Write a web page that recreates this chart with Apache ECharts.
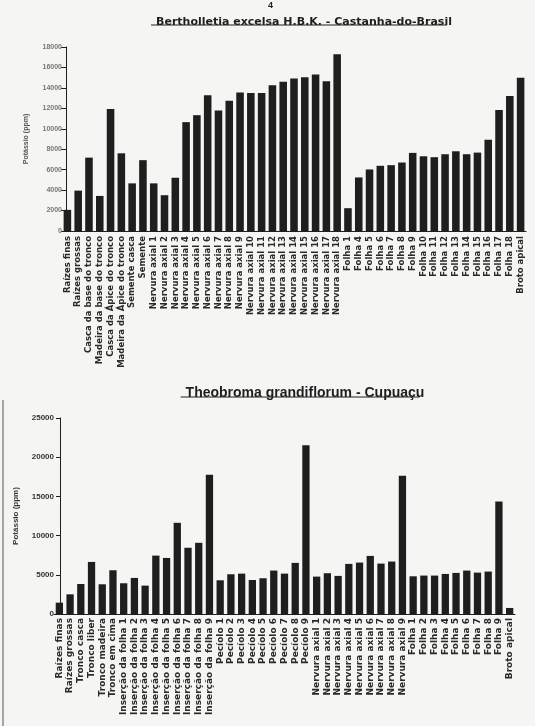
<!DOCTYPE html>
<html>
<head>
<meta charset="utf-8">
<script src="https://cdn.jsdelivr.net/npm/echarts@6/dist/echarts.min.js"></script>
<style>
  html, body { margin: 0; padding: 0; background: #f5f5f3; }
  #chart { width: 535px; height: 726px; }
</style>
</head>
<body>
<div id="chart"></div>
<script>
// Bertholletia excelsa - Castanha-do-Brasil
var castanhaCats = [
  'Raízes finas', 'Raízes grossas', 'Casca da base do tronco', 'Madeira da base do tronco',
  'Casca da Ápice do tronco', 'Madeira da Ápice do tronco', 'Semente casca', 'Semente',
  'Nervura axial 1', 'Nervura axial 2', 'Nervura axial 3', 'Nervura axial 4', 'Nervura axial 5',
  'Nervura axial 6', 'Nervura axial 7', 'Nervura axial 8', 'Nervura axial 9', 'Nervura axial 10',
  'Nervura axial 11', 'Nervura axial 12', 'Nervura axial 13', 'Nervura axial 14', 'Nervura axial 15',
  'Nervura axial 16', 'Nervura axial 17', 'Nervura axial 18',
  'Folha 1', 'Folha 4', 'Folha 5', 'Folha 6', 'Folha 7', 'Folha 8', 'Folha 9', 'Folha 10',
  'Folha 11', 'Folha 12', 'Folha 13', 'Folha 14', 'Folha 15', 'Folha 16', 'Folha 17', 'Folha 18',
  'Broto apical'
];
var castanhaK = [
  2070, 3950, 7180, 3430, 11940, 7600, 4660, 6930,
  4660, 3500, 5210, 10650, 11330, 13270, 11780, 12750, 13560, 13500,
  13500, 14270, 14600, 14920, 15050, 15310, 14660, 17280,
  2230, 5240, 6020, 6380, 6440, 6700, 7640, 7310,
  7220, 7510, 7800, 7510, 7670, 8930, 11840, 13200,
  14980
];

// Theobroma grandiflorum - Cupuaçu
var cupuacuCats = [
  'Raízes finas', 'Raízes grossas', 'Tronco casca', 'Tronco liber', 'Tronco madeira', 'Tronco em cima',
  'Inserção da folha 1', 'Inserção da folha 2', 'Inserção da folha 3', 'Inserção da folha 4',
  'Inserção da folha 5', 'Inserção da folha 6', 'Inserção da folha 7', 'Inserção da folha 8',
  'Inserção da folha 9',
  'Pecíolo 1', 'Pecíolo 2', 'Pecíolo 3', 'Pecíolo 4', 'Pecíolo 5', 'Pecíolo 6', 'Pecíolo 7',
  'Pecíolo 8', 'Pecíolo 9',
  'Nervura axial 1', 'Nervura axial 2', 'Nervura axial 3', 'Nervura axial 4', 'Nervura axial 5',
  'Nervura axial 6', 'Nervura axial 7', 'Nervura axial 8', 'Nervura axial 9',
  'Folha 1', 'Folha 2', 'Folha 3', 'Folha 4', 'Folha 5', 'Folha 6', 'Folha 7', 'Folha 8', 'Folha 9',
  'Broto apical'
];
var cupuacuK = [
  1450, 2510, 3830, 6640, 3790, 5580,
  3920, 4600, 3620, 7450, 7150, 11630, 8450, 9080, 17760,
  4300, 5070, 5150, 4340, 4560, 5540, 5150, 6520, 21510,
  4770, 5200, 4860, 6390, 6560, 7410, 6430, 6690, 17630,
  4810, 4900, 4900, 5110, 5240, 5540, 5280, 5410, 14350,
  770
];

var topTitle = 'Bertholletia excelsa H.B.K. - Castanha-do-Brasil';
var bottomTitle = 'Theobroma grandiflorum - Cupuaçu';
var yName = 'Potássio (ppm)';

var ink = '#1e1e1e';
var titleFont1 = 'bold 11px "DejaVu Sans"';
var titleFont2 = 'bold 14px "Liberation Sans"';

// largura do texto, para sublinhar os títulos
function textWidth(str, font) {
  var ctx = document.createElement('canvas').getContext('2d');
  ctx.font = font;
  return ctx.measureText(str).width;
}
var w1 = textWidth(topTitle, titleFont1);
var w2 = textWidth(bottomTitle, titleFont2);
var cx1 = 299, cx2 = 300;

function plain(v) { return String(v); }

var chart = echarts.init(document.getElementById('chart'));

var option = {
  backgroundColor: '#f5f5f3',
  animation: false,
  title: [
    {
      text: topTitle, left: cx1, top: 12, textAlign: 'center',
      textStyle: { fontFamily: 'DejaVu Sans', fontWeight: 'bold', fontSize: 11, color: ink }
    },
    {
      text: bottomTitle, left: cx2, top: 381, textAlign: 'center',
      textStyle: { fontFamily: 'Liberation Sans', fontWeight: 'bold', fontSize: 14, color: ink }
    }
  ],
  graphic: [
    { type: 'line', shape: { x1: cx1 - w1 / 2, y1: 25, x2: cx1 + w1 / 2, y2: 25 }, style: { stroke: ink, lineWidth: 1 } },
    { type: 'line', shape: { x1: cx2 - w2 / 2, y1: 397, x2: cx2 + w2 / 2, y2: 397 }, style: { stroke: ink, lineWidth: 1 } },
    { type: 'text', left: 268, top: 1, style: { text: '4', font: 'bold 9px "Liberation Sans"', fill: ink } },
    { type: 'line', shape: { x1: 3, y1: 400, x2: 3, y2: 726 }, style: { stroke: '#555', lineWidth: 1 } }
  ],
  grid: [
    { left: 62, right: 9, top: 47, height: 184 },
    { left: 54, right: 20, top: 418, height: 196 }
  ],
  xAxis: [
    {
      type: 'category', gridIndex: 0, data: castanhaCats,
      axisLine: { lineStyle: { color: ink, width: 1 } },
      axisTick: { show: false },
      axisLabel: {
        interval: 0, rotate: 90, margin: 5,
        fontFamily: 'DejaVu Sans', fontWeight: 'bold', fontSize: 8.5, color: '#2a2a2a'
      }
    },
    {
      type: 'category', gridIndex: 1, data: cupuacuCats,
      axisLine: { lineStyle: { color: ink, width: 1 } },
      axisTick: { show: false },
      axisLabel: {
        interval: 0, rotate: 90, margin: 4,
        fontFamily: 'DejaVu Sans', fontWeight: 'bold', fontSize: 9, color: '#2a2a2a'
      }
    }
  ],
  yAxis: [
    {
      type: 'value', gridIndex: 0, min: 0, max: 18000, interval: 2000, offset: -4,
      name: yName, nameLocation: 'middle', nameRotate: 90, nameGap: 36,
      nameTextStyle: { fontFamily: 'Liberation Sans', fontWeight: 'bold', fontSize: 7, color: '#555' },
      axisLine: { show: true, lineStyle: { color: ink, width: 1 } },
      axisTick: { show: true, length: 5, lineStyle: { color: ink } },
      splitLine: { show: false },
      axisLabel: { margin: 4, formatter: plain, fontFamily: 'Liberation Sans', fontWeight: 'bold', fontSize: 7, color: '#777' }
    },
    {
      type: 'value', gridIndex: 1, min: 0, max: 25000, interval: 5000, offset: -6,
      name: yName, nameLocation: 'middle', nameRotate: 90, nameGap: 40,
      nameTextStyle: { fontFamily: 'Liberation Sans', fontWeight: 'bold', fontSize: 8, color: '#333' },
      axisLine: { show: true, lineStyle: { color: ink, width: 1 } },
      axisTick: { show: true, length: 4, lineStyle: { color: ink } },
      splitLine: { show: false },
      axisLabel: { margin: 6, formatter: plain, fontFamily: 'Liberation Sans', fontWeight: 'bold', fontSize: 8, color: '#333' }
    }
  ],
  series: [
    {
      type: 'bar', xAxisIndex: 0, yAxisIndex: 0, data: castanhaK,
      barWidth: '70%', itemStyle: { color: ink }
    },
    {
      type: 'bar', xAxisIndex: 1, yAxisIndex: 1, data: cupuacuK,
      barWidth: '68%', itemStyle: { color: ink }
    }
  ]
};

chart.setOption(option);
</script>
</body>
</html>
